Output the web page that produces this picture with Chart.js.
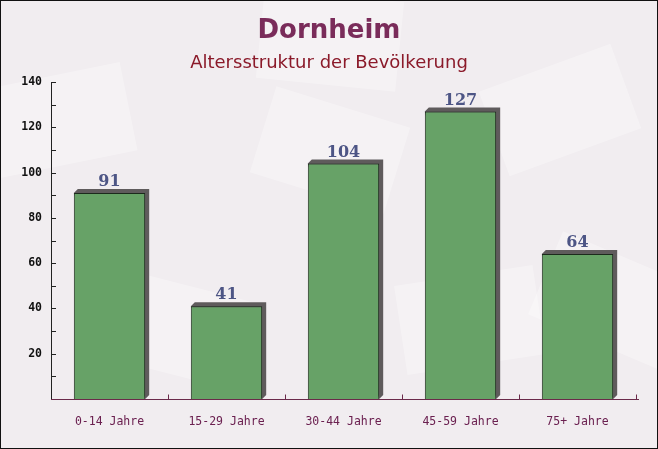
<!DOCTYPE html>
<html lang="de">
<head>
    <meta charset="UTF-8">
    <title>Dornheim - Altersstruktur</title>
    <script src="https://cdn.jsdelivr.net/npm/chart.js"></script>
    <style>
        html, body { margin: 0; padding: 0; background: #f2eef1; }
        .wrap { width: 658px; height: 449px; position: relative; }
    </style>
</head>
<body>
<div class="wrap"><canvas id="ageChart" width="658" height="449"></canvas></div>
<script>
    // Data
    const categories = ['0-14 Jahre', '15-29 Jahre', '30-44 Jahre', '45-59 Jahre', '75+ Jahre'];
    const population = [91, 41, 104, 127, 64];
    const yTicks = [20, 40, 60, 80, 100, 120, 140];

    const titleText = 'Dornheim';
    const subtitleText = 'Altersstruktur der Bevölkerung';

    // background, frame, titles
    const decoPlugin = {
        id: 'deco',
        beforeDraw(chart) {
            const ctx = chart.ctx;
            ctx.save();
            ctx.fillStyle = '#f1edf0';
            ctx.fillRect(0, 0, chart.width, chart.height);
            // faint envelope-like shapes
            ctx.fillStyle = 'rgba(255,255,255,0.3)';
            [[60, 120, -0.2], [330, 150, 0.3], [560, 110, -0.35], [180, 330, 0.25], [470, 320, -0.15], [610, 300, 0.4], [330, 40, 0.1]]
                .forEach(([x, y, r]) => {
                    ctx.save();
                    ctx.translate(x, y);
                    ctx.rotate(r);
                    ctx.fillRect(-70, -45, 140, 90);
                    ctx.restore();
                });
            ctx.restore();
        },
        afterDraw(chart) {
            const ctx = chart.ctx;
            ctx.save();
            ctx.textAlign = 'center';
            ctx.textBaseline = 'middle';
            ctx.fillStyle = '#7a2c5a';
            ctx.font = 'bold 26px "DejaVu Sans"';
            ctx.fillText(titleText, 329, 31);
            ctx.fillStyle = '#8b1a2a';
            ctx.font = '18px "DejaVu Sans"';
            ctx.fillText(subtitleText, 329, 63);
            ctx.strokeStyle = '#111';
            ctx.lineWidth = 1;
            ctx.strokeRect(0.5, 0.5, chart.width - 1, chart.height - 1);
            ctx.restore();
        }
    };

    // 3D-ish shadow behind bars, axis lines and inside ticks, value labels
    const barExtras = {
        id: 'barExtras',
        beforeDatasetsDraw(chart) {
            const ctx = chart.ctx;
            const d = 4;
            ctx.save();
            ctx.fillStyle = '#5f5b5c';
            chart.getDatasetMeta(0).data.forEach(bar => {
                const x0 = bar.x - bar.width / 2, x1 = bar.x + bar.width / 2;
                ctx.beginPath();
                ctx.moveTo(x0, bar.y);
                ctx.lineTo(x0 + d, bar.y - d);
                ctx.lineTo(x1 + d, bar.y - d);
                ctx.lineTo(x1 + d, bar.base - d);
                ctx.lineTo(x1, bar.base);
                ctx.closePath();
                ctx.fill();
            });
            ctx.restore();
        },
        afterDatasetsDraw(chart) {
            const ctx = chart.ctx;
            const area = chart.chartArea;
            const y = chart.scales.y, x = chart.scales.x;
            ctx.save();
            ctx.lineWidth = 1;
            // y axis
            ctx.strokeStyle = '#222';
            ctx.beginPath();
            ctx.moveTo(area.left + 0.5, area.top);
            ctx.lineTo(area.left + 0.5, area.bottom);
            for (let v = 10; v <= 140; v += 10) {
                const py = Math.round(y.getPixelForValue(v)) + 0.5;
                ctx.moveTo(area.left, py);
                ctx.lineTo(area.left + 5, py);
            }
            ctx.stroke();
            // x axis
            ctx.strokeStyle = '#6b2a4a';
            ctx.beginPath();
            const by = Math.round(area.bottom) + 0.5;
            ctx.moveTo(area.left, by);
            ctx.lineTo(area.right + 3, by);
            for (let i = 1; i <= categories.length; i++) {
                const px = Math.round(x.getPixelForValue(i - 0.5)) + 0.5;
                ctx.moveTo(px, by);
                ctx.lineTo(px, by - 5);
            }
            ctx.stroke();
            // value labels
            ctx.fillStyle = '#4d5585';
            ctx.font = 'bold 16px "DejaVu Serif"';
            ctx.textAlign = 'center';
            ctx.textBaseline = 'middle';
            chart.getDatasetMeta(0).data.forEach((bar, i) => {
                ctx.fillText(String(population[i]), bar.x, bar.y - 11);
            });
            ctx.restore();
        }
    };

    new Chart(document.getElementById('ageChart'), {
        type: 'bar',
        data: {
            labels: categories,
            datasets: [{
                data: population,
                backgroundColor: '#67a267',
                borderColor: '#1c2a1c',
                borderWidth: 1,
                borderSkipped: 'bottom',
                barPercentage: 0.61,
                categoryPercentage: 1.0
            }]
        },
        options: {
            responsive: false,
            animation: false,
            layout: { padding: { top: 82, right: 22, left: 0, bottom: 0 } },
            plugins: {
                legend: { display: false },
                tooltip: { enabled: false },
                title: { display: false }
            },
            scales: {
                x: {
                    grid: { display: false, drawTicks: false },
                    border: { display: false },
                    ticks: {
                        color: '#6b2050',
                        font: { family: '"DejaVu Sans Mono"', size: 11.5 },
                        padding: 16
                    },
                    afterFit(scale) { scale.height = 50; }
                },
                y: {
                    min: 0,
                    max: 140,
                    afterBuildTicks(scale) {
                        scale.ticks = yTicks.map(v => ({ value: v }));
                    },
                    grid: { display: false, drawTicks: false },
                    border: { display: false },
                    ticks: {
                        color: '#111',
                        font: { family: '"DejaVu Sans Mono"', size: 11.5, weight: 'bold' },
                        padding: 9
                    },
                    afterFit(scale) { scale.width = 51; }
                }
            }
        },
        plugins: [decoPlugin, barExtras]
    });
</script>
</body>
</html>
